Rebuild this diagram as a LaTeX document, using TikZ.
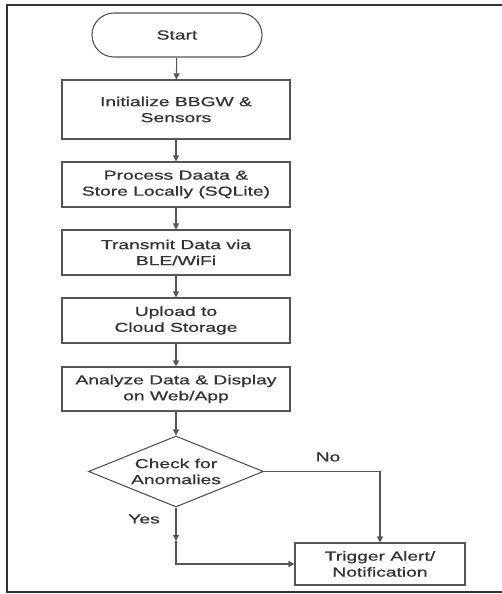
\documentclass[tikz,border=0pt]{standalone}
\usepackage{fontspec}
\setmainfont{Liberation Sans}[FakeStretch=1.48,FakeBold=0.8]
\usetikzlibrary{shapes.geometric,arrows.meta}
\definecolor{ink}{HTML}{333333}
\definecolor{edge}{HTML}{555555}
\begin{document}
\begin{tikzpicture}[x=1pt,y=-1pt,
  every node/.style={font=\fontsize{13}{16}\selectfont,text=ink,align=center},
  procbox/.style={draw=edge,line width=1.1pt,minimum width=228pt,inner sep=0pt},
  arr/.style={draw=edge,line width=1.1pt,-{Triangle[width=6pt,length=6pt]}},
  plainline/.style={draw=edge,line width=1.1pt}]
\useasboundingbox (0,0) rectangle (502,594);
\draw[ink,line width=2pt] (502,5) -- (7,5) -- (7,592) -- (502,592);
\node[draw=edge,line width=1.1pt,minimum width=170pt,minimum height=44pt,rounded corners=22pt,inner sep=0pt] (s) at (177,35) {Start};
\node[procbox,minimum height=59pt] (b1) at (176,109.5) {Initialize BBGW \&\\Sensors};
\node[procbox,minimum height=45pt] (b2) at (176,184.5) {Process Daata \&\\Store Locally (SQLite)};
\node[procbox,minimum height=45pt] (b3) at (176,252.5) {Transmit Data via\\BLE/WiFi};
\node[procbox,minimum height=45pt] (b4) at (176,320.5) {Upload to\\Cloud Storage};
\node[procbox,minimum height=44pt] (b5) at (176,389) {Analyze Data \& Display\\on Web/App};
\node[draw=edge,line width=1.1pt,shape=diamond,aspect=2.46,minimum width=175pt,minimum height=71pt,inner sep=0pt] (d) at (176,471.5) {Check for\\Anomalies};
\node[draw=edge,line width=1.1pt,minimum width=170pt,minimum height=42pt,inner sep=0pt] (t) at (380,564) {Trigger Alert/\\Notification};
\node (no) at (328,457) {No};
\node (yes) at (144,519) {Yes};
\coordinate (ymid) at (176,541);
\coordinate (ycorner) at (176,564);
\draw[arr] (s) -- (b1);
\draw[arr] (b1) -- (b2);
\draw[arr] (b2) -- (b3);
\draw[arr] (b3) -- (b4);
\draw[arr] (b4) -- (b5);
\draw[arr] (b5) -- (d);
\draw[arr] (d.east) -| (t.north);
\draw[arr] (d.south) -- (ymid);
\draw[arr] (ymid) -- (ycorner) -- (t.west);
\end{tikzpicture}
\end{document}
